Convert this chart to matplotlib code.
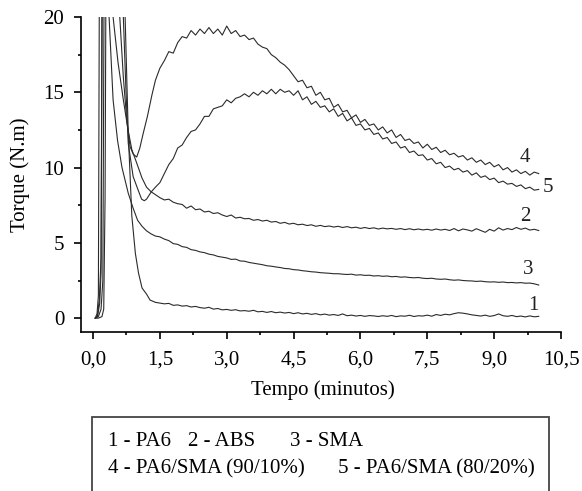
import numpy as np
import matplotlib
matplotlib.use("Agg")
import matplotlib.pyplot as plt
from matplotlib.patches import Rectangle
from matplotlib.ticker import MultipleLocator, FuncFormatter

plt.rcParams['font.family'] = ['Liberation Serif', 'DejaVu Serif']

# time grid for the slow part of every curve (minutes)
t_tail = np.linspace(1.5, 10.0, 86)

# 1 - PA6
x1_start = [0.05, 0.12, 0.20, 0.24, 0.27, 0.30, 0.62, 0.72, 0.79, 0.87, 0.95, 1.02, 1.10, 1.20, 1.28, 1.40]
y1_start = [0.0, 0.0, 0.1, 0.6, 8.0, 30.0, 30.0, 20.0, 12.3, 6.8, 4.3, 3.0, 2.0, 1.6, 1.2, 1.05]
y1_tail = [1.00, 0.95, 0.98, 0.85, 0.88, 0.80, 0.83, 0.74, 0.78, 0.70,
           0.66, 0.72, 0.60, 0.64, 0.55, 0.58, 0.52, 0.56, 0.48, 0.50,
           0.46, 0.52, 0.42, 0.45, 0.38, 0.44, 0.36, 0.40, 0.34, 0.38,
           0.30, 0.36, 0.28, 0.32, 0.25, 0.30, 0.22, 0.27, 0.20, 0.24,
           0.18, 0.28, 0.16, 0.20, 0.14, 0.18, 0.12, 0.17, 0.15, 0.11,
           0.16, 0.12, 0.18, 0.10, 0.15, 0.13, 0.19, 0.11, 0.16, 0.14,
           0.20, 0.13, 0.24, 0.18, 0.26, 0.22, 0.30, 0.36, 0.33, 0.28,
           0.22, 0.18, 0.14, 0.20, 0.12, 0.17, 0.28, 0.16, 0.12, 0.18,
           0.10, 0.14, 0.08, 0.15, 0.09, 0.12]

# 2 - ABS
x2_start = [0.05, 0.10, 0.15, 0.18, 0.21, 0.30, 0.45, 0.56, 0.68, 0.78, 0.87, 0.98, 1.10, 1.20, 1.30, 1.40]
y2_start = [0.0, 0.1, 1.0, 3.0, 30.0, 30.0, 20.0, 17.0, 14.5, 12.6, 11.2, 10.3, 9.3, 8.7, 8.4, 8.2]
y2_tail = [8.00, 7.85, 7.90, 7.70, 7.60, 7.55, 7.30, 7.45, 7.20, 7.25,
           7.05, 7.10, 6.95, 7.00, 6.85, 6.75, 6.85, 6.65, 6.70, 6.60,
           6.62, 6.50, 6.55, 6.45, 6.50, 6.38, 6.42, 6.30, 6.36, 6.25,
           6.30, 6.20, 6.24, 6.15, 6.20, 6.10, 6.16, 6.08, 6.12, 6.05,
           6.10, 6.02, 6.08, 6.00, 6.04, 5.96, 6.02, 5.95, 6.00, 5.92,
           5.98, 5.93, 5.96, 5.90, 5.95, 5.88, 5.94, 5.87, 5.92, 5.86,
           5.90, 5.84, 5.92, 5.85, 5.90, 5.82, 5.95, 5.80, 5.92, 5.86,
           5.78, 5.94, 5.82, 5.70, 5.90, 5.78, 6.00, 5.85, 5.95, 5.88,
           6.02, 5.90, 5.98, 5.85, 5.90, 5.82]

# 3 - SMA
x3_start = [0.05, 0.09, 0.12, 0.15, 0.22, 0.36, 0.45, 0.55, 0.65, 0.79, 0.90, 1.00, 1.10, 1.20, 1.30, 1.40]
y3_start = [0.0, 0.3, 1.5, 30.0, 30.0, 20.0, 14.5, 11.8, 10.0, 8.3, 7.3, 6.5, 6.1, 5.8, 5.6, 5.45]
y3_tail = [5.40, 5.25, 5.15, 4.95, 4.90, 4.75, 4.70, 4.55, 4.50, 4.40,
           4.35, 4.25, 4.20, 4.10, 4.05, 4.00, 3.90, 3.92, 3.80, 3.78,
           3.70, 3.65, 3.60, 3.55, 3.48, 3.45, 3.40, 3.36, 3.30, 3.28,
           3.22, 3.20, 3.15, 3.12, 3.08, 3.06, 3.02, 3.00, 2.98, 2.95,
           2.95, 2.92, 2.90, 2.92, 2.86, 2.88, 2.84, 2.85, 2.80, 2.82,
           2.78, 2.80, 2.75, 2.77, 2.72, 2.74, 2.70, 2.68, 2.70, 2.65,
           2.63, 2.65, 2.60, 2.58, 2.60, 2.55, 2.52, 2.54, 2.50, 2.48,
           2.47, 2.44, 2.46, 2.42, 2.40, 2.41, 2.38, 2.40, 2.36, 2.37,
           2.34, 2.36, 2.32, 2.33, 2.28, 2.20]

# 4 - PA6/SMA (90/10%)
x4_start = [0.05, 0.10, 0.14, 0.18, 0.22, 0.40, 0.60, 0.68, 0.75, 0.83, 0.90, 0.98, 1.05, 1.12, 1.22, 1.32, 1.40]
y4_start = [0.0, 0.2, 1.2, 4.0, 30.0, 30.0, 20.0, 16.0, 13.4, 11.4, 10.9, 10.7, 11.3, 12.2, 13.4, 14.8, 15.8]
y4_tail = [16.6, 17.1, 17.7, 17.6, 18.3, 18.7, 18.6, 19.1, 18.8, 19.2,
           18.9, 19.3, 18.9, 19.2, 18.8, 19.4, 18.9, 19.1, 18.7, 18.8,
           18.5, 18.6, 18.2, 18.0, 17.9, 17.5, 17.3, 17.0, 16.8, 16.5,
           16.1, 15.7, 15.8, 15.3, 15.4, 14.8, 15.0, 14.5, 14.6, 14.0,
           14.2, 13.7, 13.8, 13.3, 13.5, 13.0, 13.2, 12.8, 12.9, 12.5,
           12.7, 12.3, 12.5, 12.0, 12.2, 11.8, 11.9, 11.6, 11.7, 11.3,
           11.55, 11.2, 11.35, 11.0, 11.15, 10.85, 10.95, 10.7, 10.8, 10.5,
           10.65, 10.35, 10.5, 10.2, 10.35, 10.05, 10.2, 9.85, 10.0, 9.7,
           9.85, 9.6, 9.75, 9.5, 9.7, 9.6]

# 5 - PA6/SMA (80/20%)
x5_start = [0.05, 0.12, 0.18, 0.22, 0.26, 0.45, 0.68, 0.74, 0.79, 0.90, 1.00, 1.09, 1.15, 1.20, 1.31, 1.40]
y5_start = [0.0, 0.1, 0.6, 2.5, 30.0, 30.0, 20.0, 15.0, 11.6, 9.4, 8.6, 7.9, 7.8, 7.9, 8.4, 8.7]
y5_tail = [9.0, 9.6, 10.2, 10.6, 11.3, 11.5, 12.0, 12.4, 12.5, 12.9,
           13.4, 13.4, 13.9, 14.0, 14.1, 14.5, 14.3, 14.6, 14.7, 14.9,
           14.7, 15.0, 14.8, 15.1, 14.9, 15.2, 14.9, 15.2, 15.0, 15.1,
           14.8, 15.1, 14.5, 14.7, 14.2, 14.4, 14.0, 14.1, 13.7, 13.9,
           13.4, 13.6, 13.1, 13.3, 12.8, 12.9, 12.5, 12.6, 12.2, 12.3,
           11.9, 12.0, 11.6, 11.7, 11.3, 11.4, 11.0, 11.1, 10.8, 10.85,
           10.5, 10.6, 10.25, 10.35, 10.0, 10.1, 9.85, 9.95, 9.7, 9.8,
           9.5, 9.65, 9.35, 9.45, 9.2, 9.3, 9.0, 9.1, 8.9, 8.95,
           8.75, 8.85, 8.6, 8.7, 8.5, 8.55]

curve_labels = ["1", "2", "3", "4", "5"]
label_x = [9.87, 9.7, 9.77, 9.7, 10.2]
label_y = [0.87, 6.75, 3.2, 10.7, 8.65]

legend_line1 = ["1 - PA6", "2 - ABS", "3 - SMA"]
legend_line2 = ["4 - PA6/SMA (90/10%)", "5 - PA6/SMA (80/20%)"]

W, H = 582, 491
fig = plt.figure(figsize=(W / 100, H / 100), dpi=100)
ax = fig.add_axes([81 / W, 1 - 332 / H, 480 / W, 315 / H])

lc = '#2b2b2b'
starts = [(x1_start, y1_start, y1_tail), (x2_start, y2_start, y2_tail),
          (x3_start, y3_start, y3_tail), (x4_start, y4_start, y4_tail),
          (x5_start, y5_start, y5_tail)]
for xs, ys, yt in starts:
    x = np.concatenate([xs, t_tail])
    y = np.concatenate([ys, yt])
    ax.plot(x, y, color=lc, lw=0.8)

for lab, lx, ly in zip(curve_labels, label_x, label_y):
    ax.text(lx, ly, lab, fontsize=15, ha='center', va='center', color='#222222')

ax.set_xlim(-0.27, 10.5)
ax.set_ylim(-0.92, 20)
ax.spines['top'].set_visible(False)
ax.spines['right'].set_visible(False)
for s in ['left', 'bottom']:
    ax.spines[s].set_linewidth(1.2)

ax.xaxis.set_major_locator(MultipleLocator(1.5))
ax.xaxis.set_minor_locator(MultipleLocator(0.75))
ax.yaxis.set_major_locator(MultipleLocator(5))
ax.yaxis.set_minor_locator(MultipleLocator(2.5))
ax.xaxis.set_major_formatter(FuncFormatter(lambda v, p: ("%.1f" % v).replace('.', ',')))
ax.tick_params(which='major', length=5, width=1.2, labelsize=15, direction='out')
ax.tick_params(which='minor', length=2.5, width=1.2, direction='out')
ax.tick_params(axis='x', pad=8)
ax.tick_params(axis='y', pad=7)

fig.text(20 / W, 1 - 175 / H, "Torque (N.m)", rotation=90, fontsize=15,
         ha='center', va='center')
fig.text(323 / W, 1 - 390 / H, "Tempo (minutos)", fontsize=15,
         ha='center', va='center')

# legend box below the plot
box = Rectangle((92 / W, 1 - 505 / H), 457 / W, 88 / H, transform=fig.transFigure,
                fill=False, edgecolor='#444444', lw=1.3, clip_on=False)
fig.patches.append(box)
for txt, px in zip(legend_line1, [108, 188, 290]):
    fig.text(px / W, 1 - 441 / H, txt, fontsize=15, ha='left', va='center')
for txt, px in zip(legend_line2, [108, 338]):
    fig.text(px / W, 1 - 469 / H, txt, fontsize=15, ha='left', va='center')

fig.savefig("out.png", dpi=100)
